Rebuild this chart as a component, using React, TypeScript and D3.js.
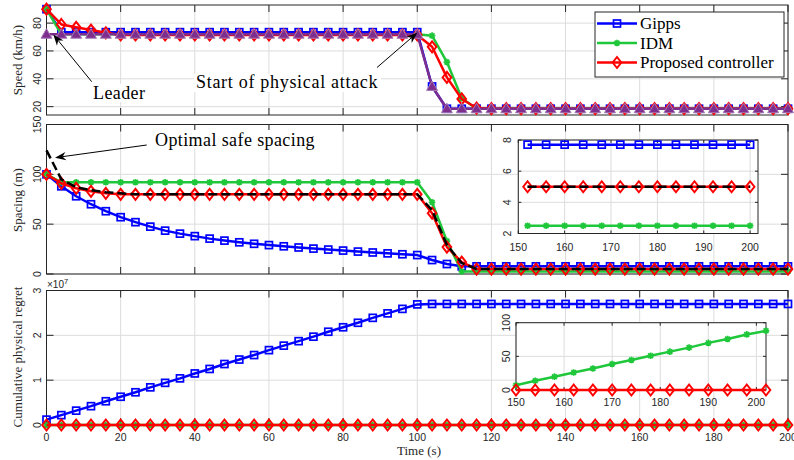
import React from 'react';
import * as d3 from 'd3';

// ---------------- DATA ----------------
const time = [0, 4, 8, 12, 16, 20, 24, 28, 32, 36, 40, 44, 48, 52, 56, 60, 64, 68, 72, 76, 80, 84, 88, 92, 96, 100,
  104, 108, 112, 116, 120, 124, 128, 132, 136, 140, 144, 148, 152, 156, 160, 164, 168, 172, 176, 180, 184, 188, 192, 196, 200];

// Speed (km/h)
const leaderSpeed = [72, 72, 72, 72, 72, 72, 72, 72, 72, 72, 72, 72, 72, 72, 72, 72, 72, 72, 72, 72, 72, 72, 72, 72, 72, 72,
  34.5, 18.5, 18.5, 18.5, 18.5, 18.5, 18.5, 18.5, 18.5, 18.5, 18.5, 18.5, 18.5, 18.5, 18.5, 18.5, 18.5, 18.5, 18.5, 18.5, 18.5, 18.5, 18.5, 18.5, 18.5];
const gippsSpeed = [90, 73.5, 73.5, 73.5, 73.5, 73.5, 73.5, 73.5, 73.5, 73.5, 73.5, 73.5, 73.5, 73.5, 73.5, 73.5, 73.5, 73.5, 73.5, 73.5, 73.5, 73.5, 73.5, 73.5, 73.5, 73.5,
  34.5, 18.5, 18.5, 18.5, 18.5, 18.5, 18.5, 18.5, 18.5, 18.5, 18.5, 18.5, 18.5, 18.5, 18.5, 18.5, 18.5, 18.5, 18.5, 18.5, 18.5, 18.5, 18.5, 18.5, 18.5];
const idmSpeed = [90, 72, 72, 72, 72, 72, 72, 72, 72, 72, 72, 72, 72, 72, 72, 72, 72, 72, 72, 72, 72, 72, 72, 72, 72, 72,
  71, 52, 26, 18.5, 18.5, 18.5, 18.5, 18.5, 18.5, 18.5, 18.5, 18.5, 18.5, 18.5, 18.5, 18.5, 18.5, 18.5, 18.5, 18.5, 18.5, 18.5, 18.5, 18.5, 18.5];
const proposedSpeed = [90, 79, 77, 75, 73, 71.5, 71.5, 71.5, 71.5, 71.5, 71.5, 71.5, 71.5, 71.5, 71.5, 71.5, 71.5, 71.5, 71.5, 71.5, 71.5, 71.5, 71.5, 71.5, 71.5, 71.5,
  63, 41, 25.5, 19, 18.5, 18.5, 18.5, 18.5, 18.5, 18.5, 18.5, 18.5, 18.5, 18.5, 18.5, 18.5, 18.5, 18.5, 18.5, 18.5, 18.5, 18.5, 18.5, 18.5, 18.5];

// Spacing (m)
const gippsSpacing = [100, 88, 78, 70, 63, 57, 52, 47.5, 43.5, 40.5, 38, 35.5, 33.5, 31.8, 30.3, 29, 27.8, 26.6, 25.5, 24.5, 23.5, 22.5, 21.6, 20.7, 19.8, 19,
  14, 10, 7.7, 7.7, 7.7, 7.7, 7.7, 7.7, 7.7, 7.7, 7.7, 7.7, 7.7, 7.7, 7.7, 7.7, 7.7, 7.7, 7.7, 7.7, 7.7, 7.7, 7.7, 7.7, 7.7];
const idmSpacing = [100, 92, 92, 92, 92, 92, 92, 92, 92, 92, 92, 92, 92, 92, 92, 92, 92, 92, 92, 92, 92, 92, 92, 92, 92, 92,
  72, 33, 2.5, 2.5, 2.5, 2.5, 2.5, 2.5, 2.5, 2.5, 2.5, 2.5, 2.5, 2.5, 2.5, 2.5, 2.5, 2.5, 2.5, 2.5, 2.5, 2.5, 2.5, 2.5, 2.5];
const proposedSpacing = [100, 91, 86, 83, 81, 80, 80, 80, 80, 80, 80, 80, 80, 80, 80, 80, 80, 80, 80, 80, 80, 80, 80, 80, 80, 80,
  61, 27, 12, 5, 5, 5, 5, 5, 5, 5, 5, 5, 5, 5, 5, 5, 5, 5, 5, 5, 5, 5, 5, 5, 5];
const optimalSpacing = [124, 95, 87, 84, 82, 81, 80, 80, 80, 80, 80, 80, 80, 80, 80, 80, 80, 80, 80, 80, 80, 80, 80, 80, 80, 80,
  64, 29, 11, 5, 5, 5, 5, 5, 5, 5, 5, 5, 5, 5, 5, 5, 5, 5, 5, 5, 5, 5, 5, 5, 5];

// Cumulative physical regret (x 1e7)
const gippsRegret = [0.12, 0.22, 0.32, 0.42, 0.53, 0.63, 0.73, 0.84, 0.94, 1.04, 1.15, 1.25, 1.36, 1.46, 1.56, 1.67, 1.77, 1.87, 1.97, 2.08, 2.18, 2.28, 2.39, 2.49, 2.59, 2.69,
  2.7, 2.7, 2.7, 2.7, 2.7, 2.7, 2.7, 2.7, 2.7, 2.7, 2.7, 2.7, 2.7, 2.7, 2.7, 2.7, 2.7, 2.7, 2.7, 2.7, 2.7, 2.7, 2.7, 2.7, 2.7];
const idmRegret = [0, 0, 0, 0, 0, 0, 0, 0, 0, 0, 0, 0, 0, 0, 0, 0, 0, 0, 0, 0, 0, 0, 0, 0, 0, 0,
  0, 0, 0, 0, 0, 0, 0, 0, 0, 0, 0, 0, 0, 0, 0, 0, 0, 0, 0, 0, 0, 0, 0, 0, 0];
const proposedRegret = [0, 0, 0, 0, 0, 0, 0, 0, 0, 0, 0, 0, 0, 0, 0, 0, 0, 0, 0, 0, 0, 0, 0, 0, 0, 0,
  0, 0, 0, 0, 0, 0, 0, 0, 0, 0, 0, 0, 0, 0, 0, 0, 0, 0, 0, 0, 0, 0, 0, 0, 0];

// Regret inset (raw values)
const regretInsetTime = [150, 154, 158, 162, 166, 170, 174, 178, 182, 186, 190, 194, 198, 202];
const idmRegretInset = [7, 13.8, 19.8, 26, 32, 38.6, 44.5, 51, 57, 63, 70, 75.7, 82.6, 88];
const proposedRegretInset = [0, 0, 0, 0, 0, 0, 0, 0, 0, 0, 0, 0, 0, 0];

// Ticks
const mainXTicks = [0, 20, 40, 60, 80, 100, 120, 140, 160, 180, 200];
const speedTicks = [20, 40, 60, 80];
const spacingTicks = [0, 50, 100, 150];
const regretTicks = [0, 1, 2, 3];
const insetXTicks = [150, 160, 170, 180, 190, 200];
const spacingInsetTicks = [2, 4, 6, 8];
const regretInsetTicks = [0, 50, 100];

const seriesNames = ['Gipps', 'IDM', 'Proposed controller'];

// ---------------- STYLE ----------------
const SERIF = '"Liberation Serif", "Times New Roman", serif';
const SANS = '"Liberation Sans", Arial, Helvetica, sans-serif';
const BLUE = '#0000ff';
const GREEN = '#1fc73a';
const RED = '#ff0000';
const PURPLE = '#7e2f8e';
const AX = '#262626';
const GRID = '#dcdcdc';
const LW = 2.5;

type Scale = d3.ScaleLinear<number, number>;
type MarkerType = 'square' | 'diamond' | 'star' | 'triangle' | null;

function Marker({ type, cx, cy, color }: { type: MarkerType; cx: number; cy: number; color: string }) {
  if (type === 'square') {
    return <rect x={cx - 3.5} y={cy - 3.5} width={7} height={7} fill="none" stroke={color} strokeWidth={1.7} />;
  }
  if (type === 'diamond') {
    return <path d={`M${cx},${cy - 5.5}L${cx + 4.3},${cy}L${cx},${cy + 5.5}L${cx - 4.3},${cy}Z`} fill="none" stroke={color} strokeWidth={2} />;
  }
  if (type === 'star') {
    const r = 3.3, q = 2.4;
    return (
      <path d={`M${cx - r},${cy}L${cx + r},${cy}M${cx},${cy - r}L${cx},${cy + r}M${cx - q},${cy - q}L${cx + q},${cy + q}M${cx - q},${cy + q}L${cx + q},${cy - q}`}
        stroke={color} strokeWidth={1.7} fill="none" />
    );
  }
  if (type === 'triangle') {
    return <path d={`M${cx},${cy - 5.5}L${cx + 5.5},${cy + 4}L${cx - 5.5},${cy + 4}Z`} fill={color} stroke="#a77bb5" strokeWidth={1} />;
  }
  return null;
}

function Series({ xs, ys, x, y, color, marker, dash, width = LW }: {
  xs: number[]; ys: number[]; x: Scale; y: Scale; color: string; marker: MarkerType; dash?: string; width?: number;
}) {
  const line = d3.line<number>().x((_, i) => x(xs[i])).y((d) => y(d));
  return (
    <g>
      <path d={line(ys) || ''} fill="none" stroke={color} strokeWidth={width} strokeDasharray={dash} strokeLinejoin="round" />
      {marker && ys.map((v, i) => <Marker key={i} type={marker} cx={x(xs[i])} cy={y(v)} color={color} />)}
    </g>
  );
}

function Frame({ x, y, xTicks, yTicks, tickLen, showXLabels, xLabelBase, yLabelBase, fs = 10.5 }: {
  x: Scale; y: Scale; xTicks: number[]; yTicks: number[]; tickLen: number; showXLabels: boolean;
  xLabelBase: number; yLabelBase: number; fs?: number;
}) {
  const [l, r] = x.range();
  const [b, t] = y.range();
  return (
    <g>
      <rect x={l} y={t} width={r - l} height={b - t} fill="#fff" />
      {xTicks.map((v) => <line key={'gx' + v} x1={x(v)} x2={x(v)} y1={t} y2={b} stroke={GRID} strokeWidth={1} />)}
      {yTicks.map((v) => <line key={'gy' + v} x1={l} x2={r} y1={y(v)} y2={y(v)} stroke={GRID} strokeWidth={1} />)}
      <rect x={l} y={t} width={r - l} height={b - t} fill="none" stroke={AX} strokeWidth={1} />
      {xTicks.map((v) => (
        <g key={'tx' + v}>
          <line x1={x(v)} x2={x(v)} y1={b} y2={b - tickLen} stroke={AX} strokeWidth={1} />
          <line x1={x(v)} x2={x(v)} y1={t} y2={t + tickLen} stroke={AX} strokeWidth={1} />
        </g>
      ))}
      {yTicks.map((v) => (
        <g key={'ty' + v}>
          <line x1={l} x2={l + tickLen} y1={y(v)} y2={y(v)} stroke={AX} strokeWidth={1} />
          <line x1={r} x2={r - tickLen} y1={y(v)} y2={y(v)} stroke={AX} strokeWidth={1} />
        </g>
      ))}
      {showXLabels && xTicks.map((v) => (
        <text key={'lx' + v} x={x(v)} y={xLabelBase} fontFamily={SANS} fontSize={fs} fill={AX} textAnchor="middle">{v}</text>
      ))}
      {yTicks.map((v) => (
        <text key={'ly' + v} transform={`translate(${yLabelBase},${y(v)}) rotate(-90)`} fontFamily={SANS} fontSize={fs} fill={AX} textAnchor="middle">{v}</text>
      ))}
    </g>
  );
}

function Arrow({ x1, y1, x2, y2 }: { x1: number; y1: number; x2: number; y2: number }) {
  const dx = x2 - x1, dy = y2 - y1;
  const len = Math.hypot(dx, dy);
  const ux = dx / len, uy = dy / len;
  const nx = -uy, ny = ux;
  const L = 11, w = 4.2;
  const bx = x2 - ux * L, by = y2 - uy * L;
  const mx = x2 - ux * L * 0.7, my = y2 - uy * L * 0.7;
  return (
    <g>
      <line x1={x1} y1={y1} x2={mx} y2={my} stroke="#000" strokeWidth={1} />
      <path d={`M${x2},${y2}L${bx + nx * w},${by + ny * w}L${mx},${my}L${bx - nx * w},${by - ny * w}Z`} fill="#000" />
    </g>
  );
}

function YLabel({ x, y, text }: { x: number; y: number; text: string }) {
  return (
    <text transform={`translate(${x},${y}) rotate(-90)`} fontFamily={SERIF} fontSize={13} fill={AX} textAnchor="middle">{text}</text>
  );
}

export default function App() {
  const X = d3.scaleLinear().domain([0, 200]).range([46.5, 788]);
  const speedY = d3.scaleLinear().domain([14, 93]).range([115, 5]);
  const spacingY = d3.scaleLinear().domain([0, 150]).range([274, 124.5]);
  const regretY = d3.scaleLinear().domain([0, 3]).range([425, 290.5]);

  const in1X = d3.scaleLinear().domain([150, 201.7]).range([518.3, 758]);
  const in1Y = d3.scaleLinear().domain([2, 8]).range([233.5, 140]);
  const in2X = d3.scaleLinear().domain([150, 202]).range([516, 766]);
  const in2Y = d3.scaleLinear().domain([0, 100]).range([390, 322.7]);

  const idx = time.map((t, i) => (t >= 150 ? i : -1)).filter((i) => i >= 0);
  const tIn = idx.map((i) => time[i]);
  const pick = (arr: number[]) => idx.map((i) => arr[i]);

  const legendRows = [
    { name: seriesNames[0], color: BLUE, marker: 'square' as MarkerType },
    { name: seriesNames[1], color: GREEN, marker: 'star' as MarkerType },
    { name: seriesNames[2], color: RED, marker: 'diamond' as MarkerType },
  ];

  return (
    <svg width={794} height={460} style={{ position: 'absolute', left: 0, top: 0, background: '#fff' }}>
      <rect x={0} y={0} width={794} height={460} fill="#fff" />

      {/* ---------- Speed panel ---------- */}
      <Frame x={X} y={speedY} xTicks={mainXTicks} yTicks={speedTicks} tickLen={7} showXLabels={false} xLabelBase={0} yLabelBase={40.5} />
      <Series xs={time} ys={gippsSpeed} x={X} y={speedY} color={BLUE} marker="square" />
      <Series xs={time} ys={idmSpeed} x={X} y={speedY} color={GREEN} marker="star" />
      <Series xs={time} ys={proposedSpeed} x={X} y={speedY} color={RED} marker="diamond" />
      <Series xs={time} ys={leaderSpeed} x={X} y={speedY} color={PURPLE} marker="triangle" />
      <YLabel x={21.5} y={60} text="Speed (km/h)" />

      {/* annotations */}
      <rect x={90} y={84} width={58} height={18} fill="#fff" />
      <text x={93} y={99} fontFamily={SERIF} fontSize={18} letterSpacing={0.4} fill="#000">Leader</text>
      <Arrow x1={91.7} y1={81.7} x2={53.3} y2={34.5} />
      <rect x={194} y={74} width={187} height={18} fill="#fff" />
      <text x={196} y={88.3} fontFamily={SERIF} fontSize={18} letterSpacing={0.7} fill="#000">Start of physical attack</text>
      <Arrow x1={377} y1={67.5} x2={417.3} y2={32.7} />

      {/* legend */}
      <rect x={595} y={12} width={189} height={65} fill="#fff" stroke={AX} strokeWidth={1} />
      {legendRows.map((r, i) => {
        const cy = 23.5 + i * 19.5;
        return (
          <g key={r.name}>
            <line x1={597} x2={637} y1={cy} y2={cy} stroke={r.color} strokeWidth={LW} />
            <Marker type={r.marker} cx={617} cy={cy} color={r.color} />
            <text x={640} y={cy + 5.5} fontFamily={SERIF} fontSize={17} fill="#000">{r.name}</text>
          </g>
        );
      })}

      {/* ---------- Spacing panel ---------- */}
      <Frame x={X} y={spacingY} xTicks={mainXTicks} yTicks={spacingTicks} tickLen={7} showXLabels={false} xLabelBase={0} yLabelBase={40.5} />
      <Series xs={time} ys={gippsSpacing} x={X} y={spacingY} color={BLUE} marker="square" />
      <Series xs={time} ys={idmSpacing} x={X} y={spacingY} color={GREEN} marker="star" />
      <Series xs={time} ys={proposedSpacing} x={X} y={spacingY} color={RED} marker="diamond" />
      <Series xs={time} ys={optimalSpacing} x={X} y={spacingY} color="#000" marker={null} dash="9,4" />
      <YLabel x={21.5} y={200} text="Spacing (m)" />
      <rect x={152} y={130} width={166} height={19} fill="#fff" />
      <text x={155} y={145.7} fontFamily={SERIF} fontSize={18} letterSpacing={0.4} fill="#000">Optimal safe spacing</text>
      <Arrow x1={146.7} y1={145} x2={55} y2={157.7} />

      {/* spacing inset */}
      <Frame x={in1X} y={in1Y} xTicks={insetXTicks} yTicks={spacingInsetTicks} tickLen={3} showXLabels={true} xLabelBase={251} yLabelBase={511} />
      <Series xs={tIn} ys={pick(gippsSpacing)} x={in1X} y={in1Y} color={BLUE} marker="square" />
      <Series xs={tIn} ys={pick(idmSpacing)} x={in1X} y={in1Y} color={GREEN} marker="star" />
      <Series xs={tIn} ys={pick(proposedSpacing)} x={in1X} y={in1Y} color={RED} marker="diamond" />
      <Series xs={tIn} ys={pick(optimalSpacing)} x={in1X} y={in1Y} color="#000" marker={null} dash="9,4" />

      {/* ---------- Regret panel ---------- */}
      <Frame x={X} y={regretY} xTicks={mainXTicks} yTicks={regretTicks} tickLen={7} showXLabels={true} xLabelBase={441} yLabelBase={40.5} />
      <text x={47} y={288} fontFamily={SANS} fontSize={10} fill={AX}>×10<tspan dy={-4} fontSize={7.5}>7</tspan></text>
      <Series xs={time} ys={gippsRegret} x={X} y={regretY} color={BLUE} marker="square" />
      <Series xs={time} ys={idmRegret} x={X} y={regretY} color={GREEN} marker="star" />
      <Series xs={time} ys={proposedRegret} x={X} y={regretY} color={RED} marker="diamond" />
      <YLabel x={21.5} y={357} text="Cumulative physical regret" />
      <text x={419} y={455} fontFamily={SERIF} fontSize={13} fill={AX} textAnchor="middle">Time (s)</text>

      {/* regret inset */}
      <Frame x={in2X} y={in2Y} xTicks={insetXTicks} yTicks={regretInsetTicks} tickLen={3} showXLabels={true} xLabelBase={406} yLabelBase={510} />
      <Series xs={regretInsetTime} ys={idmRegretInset} x={in2X} y={in2Y} color={GREEN} marker="star" />
      <Series xs={regretInsetTime} ys={proposedRegretInset} x={in2X} y={in2Y} color={RED} marker="diamond" />
    </svg>
  );
}
